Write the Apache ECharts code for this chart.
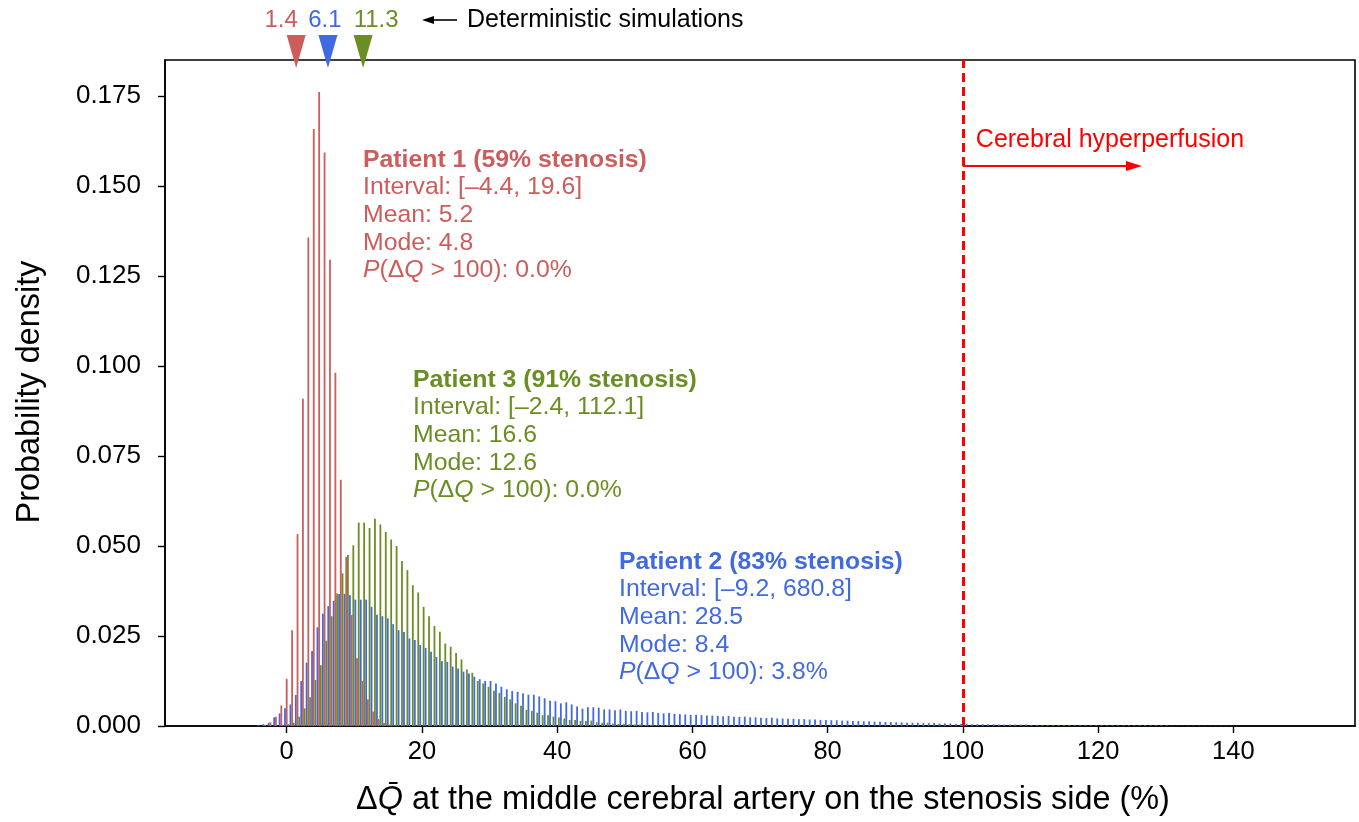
<!DOCTYPE html>
<html>
<head>
<meta charset="utf-8">
<script src="https://cdn.jsdelivr.net/npm/echarts@6/dist/echarts.min.js"></script>
<style>html,body{margin:0;padding:0;background:#fff}#c{width:1359px;height:822px}</style>
</head>
<body>
<div id="c"></div>
<script>
// ---------------- DATA ----------------
const binWidth = 0.8;               // histogram bin width (ΔQ units)
const redStart = -4.0;              // centre of first Patient 1 bin
const redValues = [0.0001,0.0003,0.0010,0.0026,0.0057,0.0131,0.0266,0.0533,0.0909,0.1357,
  0.1658,0.1761,0.1593,0.1295,0.0981,0.0684,0.0470,0.0308,0.0188,0.0125,
  0.0074,0.0040,0.0019,0.0008,0.0004,0.0002,0.0001,0.0001,0.0000,0.0001];
const blueStart = -4.0;             // centre of first Patient 2 bin
const blueValues = [0.0002,0.0005,0.0009,0.0024,0.0035,0.0049,0.0060,0.0086,0.0125,0.0176,
  0.0208,0.0274,0.0312,0.0333,0.0348,0.0367,0.0367,0.0363,0.0351,0.0351,
  0.0351,0.0331,0.0309,0.0305,0.0299,0.0283,0.0266,0.0261,0.0243,0.0239,
  0.0225,0.0217,0.0206,0.0192,0.0180,0.0178,0.0165,0.0160,0.0151,0.0146,
  0.0137,0.0130,0.0125,0.0125,0.0118,0.0109,0.0102,0.0097,0.0095,0.0091,
  0.0087,0.0087,0.0082,0.0077,0.0070,0.0069,0.0063,0.0066,0.0060,0.0054,
  0.0048,0.0052,0.0052,0.0051,0.0046,0.0046,0.0044,0.0046,0.0042,0.0041,
  0.0042,0.0039,0.0038,0.0039,0.0036,0.0035,0.0036,0.0034,0.0033,0.0032,
  0.0031,0.0031,0.0030,0.0029,0.0029,0.0028,0.0027,0.0028,0.0026,0.0025,
  0.0026,0.0024,0.0024,0.0023,0.0022,0.0023,0.0021,0.0021,0.0020,0.0020,
  0.0019,0.0019,0.0018,0.0018,0.0017,0.0017,0.0016,0.0016,0.0015,0.0015,
  0.0014,0.0014,0.0013,0.0013,0.0012,0.0012,0.0011,0.0011,0.0010,0.0010,
  0.0009,0.0009,0.0009,0.0008,0.0008,0.0008,0.0007,0.0007,0.0007,0.0006,
  0.0006,0.0006,0.0005,0.0005,0.0005,0.0005,0.0005,0.0004,0.0004,0.0004,
  0.0004,0.0004,0.0004,0.0003,0.0003,0.0003,0.0003,0.0003,0.0003,0.0003,
  0.0003,0.0002,0.0002,0.0002,0.0002,0.0002,0.0002,0.0002,0.0002,0.0002,
  0.0002,0.0002,0.0002,0.0002,0.0002,0.0002,0.0002,0.0002,0.0002,0.0001,
  0.0001,0.0001,0.0001,0.0001,0.0001,0.0001,0.0001,0.0001,0.0001,0.0001,0.0001];
const greenStart = -0.8;            // centre of first Patient 3 bin
const greenValues = [0.0002,0.0005,0.0009,0.0026,0.0049,0.0080,0.0128,0.0169,0.0237,0.0305,
  0.0368,0.0424,0.0475,0.0502,0.0565,0.0565,0.0550,0.0576,0.0560,0.0539,
  0.0518,0.0500,0.0458,0.0433,0.0391,0.0371,0.0331,0.0305,0.0278,0.0262,
  0.0229,0.0220,0.0203,0.0185,0.0157,0.0148,0.0125,0.0118,0.0109,0.0098,
  0.0092,0.0081,0.0074,0.0063,0.0056,0.0045,0.0042,0.0037,0.0030,0.0030,
  0.0026,0.0024,0.0021,0.0017,0.0017,0.0014,0.0014,0.0015,0.0010,0.0009,
  0.0009,0.0007,0.0006,0.0006,0.0005,0.0004,0.0004,0.0003,0.0003,0.0002,
  0.0002,0.0002,0.0001];
const xTicks = [0,20,40,60,80,100,120,140];
const yTicks = [0,0.025,0.05,0.075,0.1,0.125,0.15,0.175];
const detSim = [1.4, 6.1, 11.3];
const detLabels = ['1.4', '6.1', '11.3'];
const threshold = 100;
const patients = ['Patient 1 (59% stenosis)', 'Patient 2 (83% stenosis)', 'Patient 3 (91% stenosis)'];
const intervals = ['[–4.4, 19.6]', '[–9.2, 680.8]', '[–2.4, 112.1]'];
const means = ['5.2', '28.5', '16.6'];
const modes = ['4.8', '8.4', '12.6'];
const pOver = ['0.0%', '3.8%', '0.0%'];

// ---------------- STYLE ----------------
const colors = ['#CD5C5C', '#4169E1', '#6B8E23'];
const FONT = '"Liberation Sans", Arial, Helvetica, sans-serif';

function buildData(start, values) {
  return values.map((v, i) => [Math.round((start + i * binWidth) * 10) / 10, v]);
}

function histSeries(name, start, values, color, offsetFrac) {
  return {
    type: 'custom', name, clip: true, silent: true,
    data: buildData(start, values),
    encode: { x: 0, y: 1 },
    renderItem: (params, api) => {
      const top = api.coord([api.value(0), api.value(1)]);
      const base = api.coord([api.value(0), 0]);
      const bw = api.size([binWidth, 0])[0];
      const cx = top[0] + offsetFrac * bw;
      const w = 1.8;
      return { type: 'rect',
        shape: { x: cx - w / 2, y: top[1], width: w, height: Math.max(0, base[1] - top[1]) },
        style: { fill: color } };
    }
  };
}

const chart = echarts.init(document.getElementById('c'), null, { renderer: 'canvas' });
chart.setOption({
  animation: false,
  backgroundColor: '#fff',
  grid: { left: 165, right: 4, top: 60, bottom: 96, show: true, borderColor: '#000', borderWidth: 1.6, backgroundColor: 'transparent' },
  xAxis: {
    type: 'value', min: -18, max: 158,
    axisLine: { show: true, onZero: false, lineStyle: { color: '#000', width: 1.6 } },
    axisTick: { show: true, inside: false, length: 7, lineStyle: { color: '#000', width: 1.4 }, customValues: xTicks },
    axisLabel: { show: true, margin: 13, color: '#000', fontSize: 25.5, fontFamily: FONT, customValues: xTicks },
    splitLine: { show: false }
  },
  yAxis: {
    type: 'value', min: 0, max: 0.185,
    axisLine: { show: true, onZero: false, lineStyle: { color: '#000', width: 1.6 } },
    axisTick: { show: true, inside: false, length: 7, lineStyle: { color: '#000', width: 1.4 }, customValues: yTicks },
    axisLabel: { show: true, margin: 24, color: '#000', fontSize: 26, fontFamily: FONT, customValues: yTicks,
      formatter: v => v.toFixed(3) },
    splitLine: { show: false }
  },
  series: [
    histSeries('Patient 2', blueStart, blueValues, colors[1], -0.315),
    histSeries('Patient 1', redStart, redValues, colors[0], 0),
    histSeries('Patient 3', greenStart, greenValues, colors[2], 0.315),
    {
      type: 'line', data: [], silent: true,
      markLine: {
        silent: true, symbol: ['none', 'none'], label: { show: false },
        lineStyle: { color: '#ff0000', width: 3, type: [9, 5] },
        data: [{ xAxis: threshold }]
      }
    }
  ]
});

// ---------------- ANNOTATIONS ----------------
const gx = v => chart.convertToPixel({ xAxisIndex: 0 }, v);
const gy = v => chart.convertToPixel({ yAxisIndex: 0 }, v);
const plotTop = gy(0.185);
const g = [];

function txt(x, y, text, opts) {
  const s = Object.assign({ text, fill: '#000', fontSize: 24.8, fontFamily: FONT,
    align: 'left', verticalAlign: 'middle' }, opts || {});
  s.textAlign = s.align;
  s.textVerticalAlign = s.verticalAlign;
  return { type: 'text', x, y, z: 20, silent: true, style: s };
}

// deterministic simulation markers
const labelShift = [-15, -3, 13];
detSim.forEach((v, i) => {
  const p = gx(v);
  g.push({ type: 'polygon', z: 20, silent: true,
    shape: { points: [[p - 9.5, plotTop - 25], [p + 9.5, plotTop - 25], [p, plotTop + 8]] },
    style: { fill: colors[i] } });
  g.push(txt(p + labelShift[i], 20, detLabels[i], { fill: colors[i], fontSize: 24 }).style.align === 'left'
    ? txt(p + labelShift[i], 20, detLabels[i], { fill: colors[i], fontSize: 24, align: 'center' }) : null);
});
g.push({ type: 'line', z: 20, silent: true, shape: { x1: 430, y1: 20, x2: 457, y2: 20 }, style: { stroke: '#000', lineWidth: 1.6 } });
g.push({ type: 'polygon', z: 20, silent: true, shape: { points: [[422, 20], [434, 16], [434, 24]] }, style: { fill: '#000' } });
g.push(txt(467, 20, 'Deterministic simulations', { fontSize: 25 }));

// cerebral hyperperfusion
const tx = gx(threshold);
g.push(txt(tx + 13, 140, 'Cerebral hyperperfusion', { fill: '#ff0000', fontSize: 25 }));
g.push({ type: 'line', z: 20, silent: true, shape: { x1: tx, y1: 166, x2: 1128, y2: 166 }, style: { stroke: '#ff0000', lineWidth: 2 } });
g.push({ type: 'polygon', z: 20, silent: true, shape: { points: [[1142, 166], [1126, 161], [1126, 171]] }, style: { fill: '#ff0000' } });

// patient blocks: [patient index, left, first line y]
const blocks = [[0, 363, 160], [2, 413, 380], [1, 619, 562]];
const lh = 27.6;
blocks.forEach(([k, x, y0]) => {
  const c = colors[k];
  const it = { i: { fontStyle: 'italic', fill: c, fontSize: 24.8, fontFamily: FONT } };
  g.push(txt(x, y0, patients[k], { fill: c, fontWeight: 'bold' }));
  g.push(txt(x, y0 + lh, 'Interval: ' + intervals[k], { fill: c }));
  g.push(txt(x, y0 + 2 * lh, 'Mean: ' + means[k], { fill: c }));
  g.push(txt(x, y0 + 3 * lh, 'Mode: ' + modes[k], { fill: c }));
  g.push(txt(x, y0 + 4 * lh, '{i|P}(Δ{i|Q} > 100): ' + pOver[k], { fill: c, rich: it }));
});

// axis titles
g.push(txt(763, 800, 'Δ{q|Q\u0304} at the middle cerebral artery on the stenosis side (%)',
  { fontSize: 32.4, align: 'center', rich: { q: { fontStyle: 'italic', fontSize: 32.4, fontFamily: FONT, fill: '#000' } } }));
g.push({ type: 'text', x: 30, y: 392, rotation: Math.PI / 2, z: 20, silent: true,
  style: { text: 'Probability density', fill: '#000', fontSize: 32.4, fontFamily: FONT,
    align: 'center', verticalAlign: 'middle', textAlign: 'center', textVerticalAlign: 'middle' } });

chart.setOption({ graphic: { elements: g.filter(Boolean) } });
</script>
</body>
</html>
